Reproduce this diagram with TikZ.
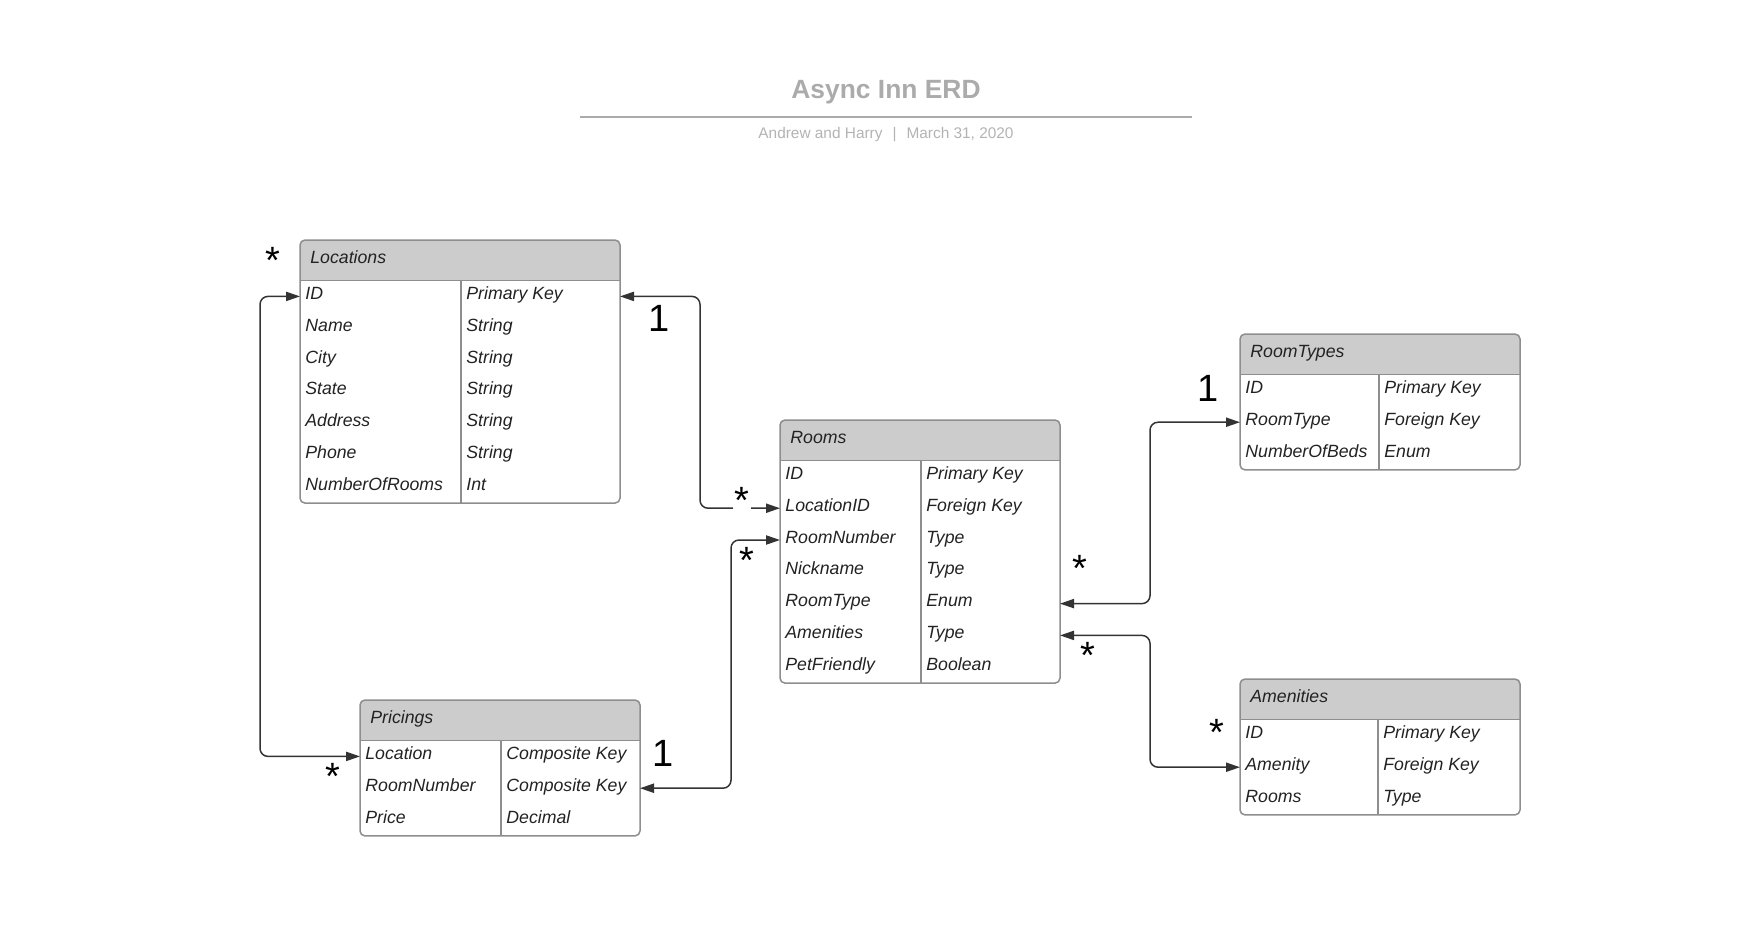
\documentclass[tikz,border=0pt]{standalone}
\usepackage{fontspec}
\setmainfont{Liberation Sans}
\usetikzlibrary{arrows.meta,calc}
\definecolor{hdrc}{HTML}{CCCCCC}
\definecolor{framec}{HTML}{8E8E8E}
\definecolor{ttlc}{HTML}{ABABAB}
\definecolor{subc}{HTML}{B3B3B3}
\definecolor{txtc}{HTML}{222222}
\definecolor{connc}{HTML}{333333}
\tikzset{
  erdframe/.style={draw=framec, line width=0.75pt, rounded corners=2.5pt, inner sep=0pt, outer sep=0pt},
  rowbox/.style={inner sep=0pt, outer sep=0pt, minimum height=15.9pt},
  erdcell/.style={inner sep=0pt, anchor=base west, font=\fontsize{8.85pt}{10pt}\selectfont\itshape, text=txtc},
  erdrule/.style={draw=framec, line width=0.75pt},
  erdconn/.style={draw=connc, line width=0.75pt, rounded corners=4pt,
    {Triangle[length=7pt,width=4.6pt]}-{Triangle[length=7pt,width=4.6pt]}},
  erdmult/.style={inner sep=0pt, anchor=base, font=\fontsize{19pt}{22pt}\selectfont, text=black},
}
\newcommand{\erdtable}[8]{%
  \pgfmathsetmacro{\erdH}{40.5+31.8*#6}%
  \begin{scope}
    \clip[rounded corners=2.5pt] (#2,#3) rectangle ++(#4,\erdH);
    \fill[hdrc] (#2,#3) rectangle ++(#4,40.5);
  \end{scope}
  \node[erdframe, anchor=north west, minimum width=#4*0.5pt, minimum height=\erdH*0.5pt] (#1) at (#2,#3) {};
  \node[erdcell] (#1-title) at (#2+10,#3+23) {#7};
  \draw[erdrule] (#2,#3+40.5) -- ++(#4,0);
  \draw[erdrule] (#2+#5,#3+40.5) -- (#2+#5,#3+\erdH);
  \foreach \a/\b [count=\i] in {#8}{%
    \node[rowbox, anchor=north west, minimum width=#4*0.5pt] (#1\i) at (#2,#3+40.5+31.8*\i-31.8) {};
    \node[erdcell] (#1\i-k) at ($(#1\i.north west)+(5,19)$) {\a};
    \node[erdcell] (#1\i-t) at ($(#1\i.north west)+(#5+5,19)$) {\b};
  }%
}
\begin{document}
\begin{tikzpicture}[x=0.5pt,y=-0.5pt]
\useasboundingbox (0,0) rectangle (1760,949);

% title
\node[font=\fontsize{13.2pt}{15pt}\selectfont\bfseries, text=ttlc, anchor=base, inner sep=0pt] (title) at (886,98) {Async Inn ERD};
\coordinate (tl) at (580,117);
\coordinate (tr) at (1192,117);
\draw[ttlc, line width=0.75pt] (tl) -- (tr);
\node[font=\fontsize{7.7pt}{9pt}\selectfont, text=subc, anchor=base, inner sep=0pt] (subtitle) at (886,138) {Andrew and Harry\hspace{5pt}|\hspace{5pt}March 31, 2020};

% tables
\erdtable{loc}{300}{240}{320}{161}{7}{Locations}{ID/Primary Key, Name/String, City/String, State/String, Address/String, Phone/String, NumberOfRooms/Int}
\erdtable{room}{780}{420}{280}{141}{7}{Rooms}{ID/Primary Key, LocationID/Foreign Key, RoomNumber/Type, Nickname/Type, RoomType/Enum, Amenities/Type, PetFriendly/Boolean}
\erdtable{rt}{1240}{334}{280}{139}{3}{RoomTypes}{ID/Primary Key, RoomType/Foreign Key, NumberOfBeds/Enum}
\erdtable{am}{1240}{679}{280}{138}{3}{Amenities}{ID/Primary Key, Amenity/Foreign Key, Rooms/Type}
\erdtable{pri}{360}{700}{280}{141}{3}{Pricings}{Location/Composite Key, RoomNumber/Composite Key, Price/Decimal}

% connectors
\draw[erdconn] (pri1.west) -- ++(-100,0) |- (loc1.west);
\draw[erdconn] (loc1.east) -- ++(80,0) |- (room2.west);
\draw[erdconn] (pri2.east) -- ++(91,0) |- (room3.west);
\draw[erdconn] (room5.east) -- ++(90,0) |- (rt2.west);
\draw[erdconn] (room6.east) -- ++(90,0) |- (am2.west);

% multiplicities
\node[erdmult] (s1) at (273,273.5) {*};
\node[erdmult] (s2) at (333,789.5) {*};
\node[erdmult, fill=white, inner sep=0.6pt] (s3) at (742,513.5) {*};
\node[erdmult] (s4) at (747,573.5) {*};
\node[erdmult] (s5) at (1080,581.5) {*};
\node[erdmult] (s6) at (1088,668.5) {*};
\node[erdmult] (s7) at (1217,745.5) {*};
\node[erdmult] (o1) at (659,331) {1};
\node[erdmult] (o2) at (663,766) {1};
\node[erdmult] (o3) at (1208,401) {1};
\end{tikzpicture}
\end{document}
